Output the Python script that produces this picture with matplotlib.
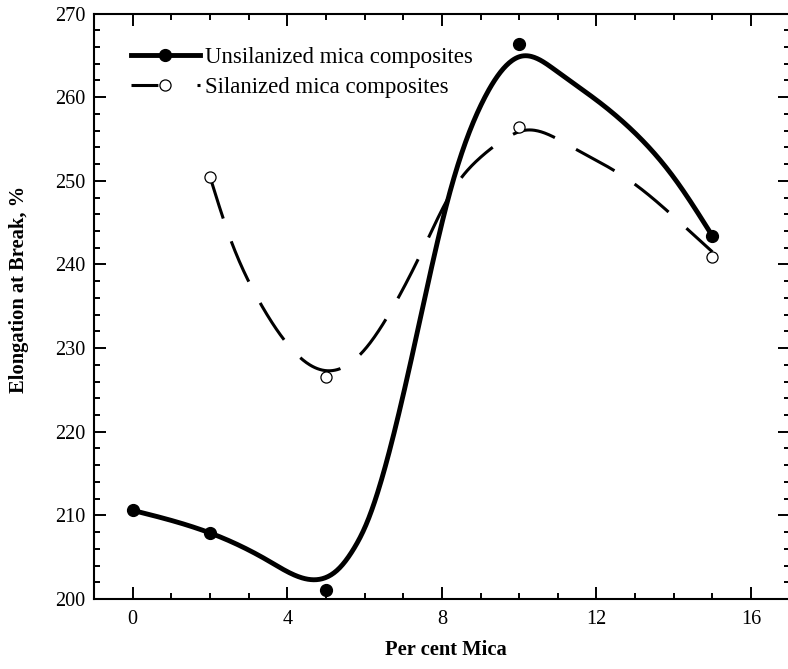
import numpy as np
import matplotlib
matplotlib.use("Agg")
import matplotlib.pyplot as plt
from matplotlib.lines import Line2D
from matplotlib.ticker import MultipleLocator

plt.rcParams['font.family'] = ['Liberation Serif', 'DejaVu Serif']

# measured data points
mica_unsil = [0, 2, 5, 10, 15]
elong_unsil = [210.6, 207.9, 201.1, 266.3, 243.4]
mica_sil = [2, 5, 10, 15]
elong_sil = [250.5, 226.6, 256.4, 240.9]

# smooth curves (knots)
curve_unsil_x = [0, 2, 3.5, 4.7, 5.35, 5.7, 6.05, 6.65, 7.26, 8.2, 9.07, 10.06, 11.0, 12.1, 13.0, 14.0, 15]
curve_unsil_y = [210.6, 207.9, 204.6, 202.3, 203.7, 205.85, 209.0, 217.8, 229.7, 248.5, 259.6, 264.9, 263.0, 259.3, 255.7, 250.4, 243.4]
curve_sil_x = [2, 2.5, 3.25, 3.9, 4.4, 5.0, 5.45, 6.0, 6.7, 7.5, 8.3, 9.0, 9.7, 10.1, 11.3, 12.9, 14.5, 15]
curve_sil_y = [250.5, 243.4, 235.8, 231.1, 228.6, 227.3, 227.7, 229.8, 234.6, 241.7, 249.0, 252.8, 255.2, 256.0, 254.2, 249.9, 243.6, 241.5]

xlabel = "Per cent Mica"
ylabel = "Elongation at Break, %"
labels = ["Unsilanized mica composites", "Silanized mica composites"]


def natural_cubic(xk, yk, xs):
    xk = np.asarray(xk, float); yk = np.asarray(yk, float)
    n = len(xk); h = np.diff(xk)
    A = np.zeros((n, n)); r = np.zeros(n)
    A[0, 0] = 1; A[-1, -1] = 1
    for i in range(1, n - 1):
        A[i, i - 1] = h[i - 1]; A[i, i] = 2 * (h[i - 1] + h[i]); A[i, i + 1] = h[i]
        r[i] = 3 * ((yk[i + 1] - yk[i]) / h[i] - (yk[i] - yk[i - 1]) / h[i - 1])
    c = np.linalg.solve(A, r)
    b = (yk[1:] - yk[:-1]) / h - h * (2 * c[:-1] + c[1:]) / 3
    d = (c[1:] - c[:-1]) / (3 * h)
    idx = np.clip(np.searchsorted(xk, xs) - 1, 0, n - 2)
    t = xs - xk[idx]
    return yk[idx] + b[idx] * t + c[idx] * t ** 2 + d[idx] * t ** 3


fig = plt.figure(figsize=(7.88, 6.69), dpi=100)
W, H = 788, 669
ax = fig.add_axes([94 / W, 70 / H, 695.7 / W, 585.5 / H])

xs1 = np.linspace(curve_unsil_x[0], curve_unsil_x[-1], 600)
xs2 = np.linspace(curve_sil_x[0], curve_sil_x[-1], 600)
ax.plot(xs1, natural_cubic(curve_unsil_x, curve_unsil_y, xs1), color='black', lw=3.5,
        solid_capstyle='round', zorder=2)
ax.plot(xs2, natural_cubic(curve_sil_x, curve_sil_y, xs2), color='black', lw=2.2,
        ls=(0, (14.4, 7.9)), dash_capstyle='butt', zorder=2)

ax.plot(mica_unsil, elong_unsil, 'o', color='black', ms=8.5, zorder=3)
ax.plot(mica_sil, elong_sil, 'o', mfc='white', mec='black', mew=0.9, ms=8, zorder=3)

ax.set_xlim(-1, 17)
ax.set_ylim(200, 270)
ax.xaxis.set_major_locator(MultipleLocator(4))
ax.xaxis.set_minor_locator(MultipleLocator(1))
ax.yaxis.set_major_locator(MultipleLocator(10))
ax.yaxis.set_minor_locator(MultipleLocator(2))
ax.tick_params(which='both', direction='in', top=True, right=True, width=1.4, labelsize=14.6)
ax.tick_params(which='major', length=8.5)
ax.tick_params(which='minor', length=4.5)
ax.tick_params(axis='x', pad=8)
ax.tick_params(axis='y', pad=6)
for s in ax.spines.values():
    s.set_linewidth(1.5)

ax.set_xlabel(xlabel, fontsize=14.8, fontweight='bold')
ax.set_ylabel(ylabel, fontsize=14.8, fontweight='bold')
ax.xaxis.set_label_coords(0.506, -0.070)
ax.yaxis.set_label_coords(-0.094, 0.528)

h1 = Line2D([], [], color='black', lw=3.5, marker='o', ms=8.5)
h2 = Line2D([], [], color='black', lw=2.2, ls=(0, (8.8, 12.8)), dash_capstyle='butt',
            marker='o', mfc='white', mec='black', mew=0.9, ms=8)
ax.legend([h1, h2], labels, loc='upper left', bbox_to_anchor=(0.0532, 0.943), frameon=False,
          fontsize=16.5, handlelength=3.0, handletextpad=0.25, borderpad=0, borderaxespad=0,
          labelspacing=0.41)

fig.savefig("out.png", dpi=100)
